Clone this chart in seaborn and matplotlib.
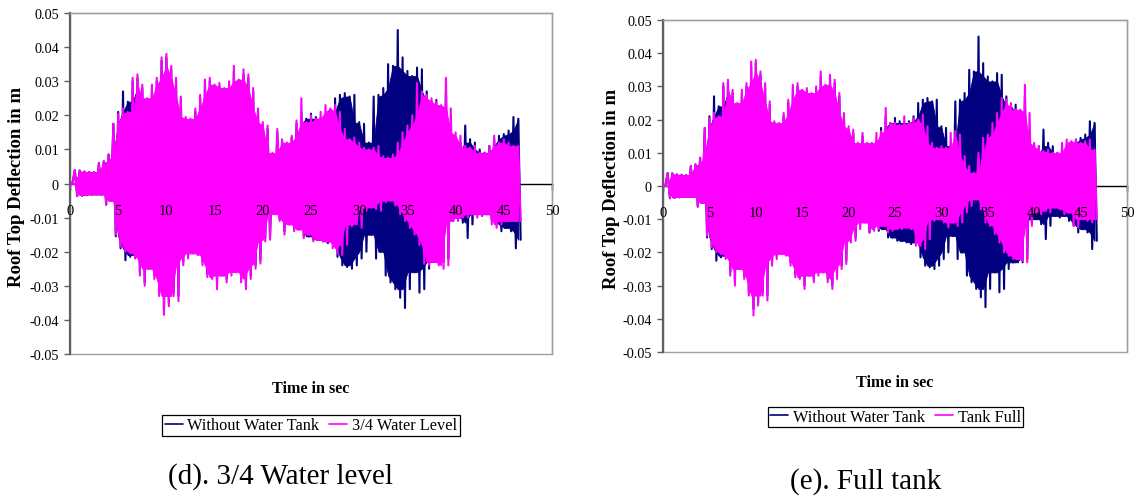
import numpy as np
import pandas as pd
import matplotlib
matplotlib.use("Agg")
import matplotlib.pyplot as plt
import seaborn as sns
from matplotlib.lines import Line2D

# Roof-top deflection peak envelopes (mm), sampled every 0.5 s from 0 to 46.5 s
STEP = 0.5
time_s = np.arange(0, 46.5 + STEP / 2, STEP)

no_tank_upper = [0, 3.9, 3.8, 3.5, 3.4, 3.3, 6.0, 6.5, 8.5, 17.5,
                 21.0, 27.0, 24.0, 30.0, 31.0, 28.0, 24.0, 28.0, 30.0, 36.0,
                 37.0, 33.5, 30.0, 24.5, 19.0, 18.5, 21.0, 25.0, 29.5, 30.0,
                 28.0, 28.5, 27.0, 29.0, 33.0, 29.5, 32.0, 31.0, 27.0, 21.0,
                 17.0, 16.0, 8.5, 15.0, 12.5, 11.5, 13.5, 17.5, 21.0, 19.0,
                 20.5, 19.5, 19.0, 19.5, 21.0, 25.0, 26.0, 26.5, 25.5, 26.0,
                 18.0, 17.5, 12.0, 25.5, 26.0, 28.0, 35.0, 34.5, 45.0, 37.0,
                 33.0, 31.5, 34.0, 33.5, 27.0, 24.0, 24.5, 22.0, 27.0, 14.0,
                 9.5, 12.0, 17.0, 13.0, 12.0, 10.0, 9.0, 11.0, 13.0, 14.0,
                 14.5, 15.5, 19.5, 19.0]
no_tank_lower = [0, -3.7, -3.6, -3.4, -3.3, -3.2, -3.2, -6.2, -5.0, -15.5,
                 -19.0, -22.5, -21.5, -21.0, -26.0, -29.0, -24.0, -27.0, -32.0, -37.0,
                 -35.0, -32.0, -33.0, -23.0, -21.0, -20.0, -20.0, -23.0, -26.5, -27.0,
                 -30.0, -26.0, -28.0, -26.0, -25.0, -28.0, -30.0, -27.0, -24.0, -22.5,
                 -16.0, -15.5, -8.5, -10.5, -14.0, -11.5, -13.5, -13.0, -15.5, -15.5,
                 -16.5, -16.5, -17.0, -17.5, -17.0, -21.5, -24.0, -24.5, -25.0, -24.0,
                 -22.0, -20.0, -15.0, -22.0, -20.0, -27.0, -29.0, -31.0, -33.5, -36.5,
                 -31.0, -26.0, -32.0, -31.0, -25.0, -23.0, -23.0, -23.0, -22.0, -11.0,
                 -10.0, -11.5, -16.0, -12.0, -9.0, -9.5, -9.0, -10.5, -12.0, -14.0,
                 -13.0, -14.0, -19.0, -16.5]

three_quarter_upper = [0, 3.9, 3.8, 3.5, 3.4, 3.3, 6.0, 6.5, 8.5, 17.5,
                       20.5, 22.0, 21.0, 31.0, 32.0, 29.0, 25.0, 29.0, 31.0, 37.0,
                       38.0, 34.5, 31.0, 25.5, 19.5, 19.0, 22.0, 26.0, 30.5, 31.0,
                       29.0, 29.5, 28.0, 30.0, 34.5, 30.5, 33.5, 32.0, 28.0, 22.0,
                       18.0, 17.0, 9.0, 16.0, 13.0, 12.0, 14.0, 18.5, 25.0, 18.0,
                       20.0, 19.0, 21.0, 23.0, 22.0, 23.0, 21.0, 16.0, 13.0, 13.5,
                       12.0, 10.5, 10.0, 10.5, 11.0, 8.0, 7.5, 8.5, 12.0, 15.0,
                       17.0, 20.0, 29.5, 27.0, 26.0, 25.0, 24.0, 23.0, 31.0, 22.0,
                       15.0, 14.0, 11.0, 10.5, 11.0, 9.0, 9.0, 11.0, 14.0, 12.0,
                       13.0, 12.0, 11.0, 11.0]
three_quarter_lower = [0, -3.7, -3.6, -3.4, -3.3, -3.2, -3.2, -6.2, -5.0, -15.0,
                       -18.5, -20.0, -20.5, -22.0, -27.0, -30.0, -25.0, -28.0, -33.0, -38.5,
                       -36.0, -33.0, -34.5, -24.0, -22.0, -20.5, -21.0, -24.0, -27.5, -28.0,
                       -31.0, -27.0, -29.0, -27.0, -26.0, -29.0, -31.0, -28.0, -25.0, -23.5,
                       -17.0, -16.5, -9.0, -11.0, -15.0, -12.0, -14.0, -13.5, -16.0, -15.0,
                       -17.0, -16.5, -17.0, -17.0, -19.0, -20.5, -21.0, -18.0, -12.5, -12.0,
                       -13.0, -8.0, -7.0, -7.5, -8.0, -5.5, -5.0, -6.5, -9.0, -11.0,
                       -13.0, -15.0, -18.0, -23.5, -24.0, -23.0, -24.0, -25.0, -24.0, -11.0,
                       -11.0, -10.0, -10.0, -9.0, -10.0, -9.5, -9.0, -12.0, -13.0, -12.0,
                       -11.0, -11.0, -11.0, -11.0]

full_tank_upper = [0, 3.9, 3.8, 3.5, 3.4, 3.3, 6.0, 6.5, 8.5, 17.5,
                   20.5, 22.0, 21.0, 31.0, 32.0, 29.0, 25.0, 29.0, 31.0, 37.5,
                   38.0, 34.5, 31.0, 25.5, 19.5, 19.0, 22.0, 26.0, 30.5, 31.0,
                   29.0, 29.5, 28.0, 30.0, 34.5, 30.5, 33.5, 32.0, 28.0, 22.0,
                   18.0, 17.0, 13.0, 16.0, 13.0, 13.0, 16.0, 16.5, 23.5, 19.0,
                   19.0, 18.5, 21.0, 19.0, 20.5, 20.0, 21.5, 18.0, 13.0, 11.5,
                   12.0, 11.5, 16.0, 16.5, 15.5, 9.0, 6.0, 4.0, 10.0, 14.5,
                   15.5, 19.0, 22.0, 26.5, 26.0, 25.0, 23.0, 23.0, 30.5, 22.0,
                   13.0, 12.0, 10.5, 11.0, 10.0, 10.0, 13.0, 14.0, 13.5, 14.0,
                   13.0, 13.5, 14.0, 11.0]
full_tank_lower = [0, -3.7, -3.6, -3.4, -3.3, -3.2, -3.2, -6.2, -5.0, -15.0,
                   -18.5, -20.0, -20.5, -22.0, -27.0, -30.0, -25.0, -28.0, -33.0, -39.0,
                   -36.0, -33.0, -34.5, -24.0, -22.0, -20.5, -21.0, -24.0, -27.5, -28.0,
                   -31.0, -27.0, -29.0, -27.0, -26.0, -29.0, -31.0, -28.0, -25.0, -23.5,
                   -17.0, -16.5, -13.0, -11.0, -14.0, -13.5, -13.0, -12.0, -14.0, -13.5,
                   -13.0, -13.0, -12.5, -13.0, -18.0, -18.0, -19.0, -16.0, -10.5, -10.0,
                   -11.0, -12.5, -11.0, -12.0, -11.0, -8.0, -6.0, -4.0, -7.0, -11.0,
                   -12.0, -14.5, -17.0, -20.0, -21.0, -22.0, -22.0, -22.5, -23.0, -12.0,
                   -8.0, -8.5, -7.5, -8.0, -6.5, -7.0, -8.5, -8.0, -12.0, -12.5,
                   -10.0, -10.5, -11.0, -10.0]

series_names = ["Without Water Tank", "3/4 Water Level", "Tank Full"]
panel_titles = ["(d). 3/4 Water level", "(e). Full tank"]
x_ticks = [0, 5, 10, 15, 20, 25, 30, 35, 40, 45, 50]
y_ticks = [-0.05, -0.04, -0.03, -0.02, -0.01, 0, 0.01, 0.02, 0.03, 0.04, 0.05]

NAVY = "#000080"
MAGENTA = "#FF00FF"

sns.set_style("white")
plt.rcParams["font.family"] = ["Liberation Serif", "DejaVu Serif"]
for key in ("text.color", "axes.labelcolor", "xtick.color", "ytick.color"):
    plt.rcParams[key] = "black"

fig = plt.figure(figsize=(11.36, 5.02), dpi=100)
W, H = 1136, 502


def px_axes(x0, y0, x1, y1):
    return fig.add_axes([x0 / W, 1 - y1 / H, (x1 - x0) / W, (y1 - y0) / H])


def neighbour_core(vals, pick):
    # solid body of the trace: the smaller peak among each sample and its neighbours
    v = np.asarray(vals)
    padded = np.concatenate([v[:1], v, v[-1:]])
    stack = np.vstack([padded[:-2], padded[1:-1], padded[2:]])
    return pick(stack, axis=0)


def draw_trace(ax, upper_mm, lower_mm, color, z):
    up = np.asarray(upper_mm) / 1000.0
    lo = np.asarray(lower_mm) / 1000.0
    core_up = neighbour_core(up, np.min)
    core_lo = neighbour_core(lo, np.max)
    ax.fill_between(time_s, core_lo, core_up, color=color, lw=0.6, zorder=z)
    # oscillating trace swinging between the positive and negative peaks
    tz = np.empty(2 * len(time_s))
    vz = np.empty(2 * len(time_s))
    tz[0::2] = time_s
    tz[1::2] = time_s + STEP / 2
    vz[0::2] = up
    vz[1::2] = lo
    df = pd.DataFrame({"t": tz, "v": vz})
    sns.lineplot(data=df, x="t", y="v", ax=ax, color=color, lw=1.5,
                 sort=False, estimator=None, zorder=z)


def style_axes(ax):
    ax.set_xlim(0, 50)
    ax.set_ylim(-0.05, 0.05)
    ax.set_xticks(x_ticks)
    ax.set_yticks(y_ticks)
    ax.set_xticklabels([])
    ax.set_yticklabels([("%g" % v) for v in y_ticks])
    ax.set_xlabel("")
    ax.set_ylabel("")
    ax.patch.set_edgecolor("#a0a0a0")
    ax.patch.set_linewidth(1.0)
    for side in ("top", "right"):
        ax.spines[side].set_color("#a0a0a0")
        ax.spines[side].set_linewidth(1.0)
    ax.spines["left"].set_color("#606060")
    ax.spines["left"].set_linewidth(1.6)
    ax.spines["bottom"].set_position(("data", 0))
    ax.spines["bottom"].set_color("black")
    ax.spines["bottom"].set_linewidth(1.0)
    ax.spines["bottom"].set_zorder(1)
    ax.xaxis.set_zorder(1)
    ax.tick_params(axis="y", direction="out", length=4, width=1.0,
                   color="#606060", pad=4, labelsize=10.3, left=True)
    ax.tick_params(axis="x", direction="out", length=4, width=1.0,
                   color="black", bottom=True)
    # time labels sit just under the zero line, above the traces
    for v in x_ticks:
        ax.annotate(str(v), xy=(v, 0), xytext=(0, -14.5), textcoords="offset points",
                    ha="center", va="top", fontsize=10.5, zorder=6,
                    annotation_clip=False)
    if ax.get_legend() is not None:
        ax.get_legend().remove()


panels = [
    dict(box=(70, 14, 552, 355), second=(three_quarter_upper, three_quarter_lower),
         name=series_names[1], ylab_x=17, xlab_y=389,
         legend_c=((157 + 465) / 2, (413 + 440) / 2), title_c=(281, 477)),
    dict(box=(663, 21, 1127, 353), second=(full_tank_upper, full_tank_lower),
         name=series_names[2], ylab_x=612, xlab_y=383,
         legend_c=((768 + 1023) / 2, (405 + 431) / 2), title_c=(866, 482)),
]

for i, p in enumerate(panels):
    x0, y0, x1, y1 = p["box"]
    ax = px_axes(x0, y0, x1, y1)
    draw_trace(ax, no_tank_upper, no_tank_lower, NAVY, 3)
    draw_trace(ax, p["second"][0], p["second"][1], MAGENTA, 4)
    style_axes(ax)

    fig.text(p["ylab_x"] / W, 1 - ((y0 + y1) / 2 + 2) / H, "Roof Top Deflection in m",
             rotation=90, ha="center", va="center", fontsize=13.5, fontweight="bold")
    fig.text(((x0 + x1) / 2) / W, 1 - p["xlab_y"] / H, "Time in sec",
             ha="center", va="center", fontsize=11.6, fontweight="bold")

    handles = [Line2D([0], [0], color=NAVY, lw=1.2),
               Line2D([0], [0], color=MAGENTA, lw=1.2)]
    lx, ly = p["legend_c"]
    leg = fig.legend(handles, [series_names[0], p["name"]], loc="center",
                     bbox_to_anchor=(lx / W, 1 - ly / H), ncol=2, frameon=True,
                     fancybox=False, framealpha=1, edgecolor="black",
                     fontsize=11.8, handlelength=1.1, handletextpad=0.3,
                     columnspacing=0.6, borderpad=0.15, borderaxespad=0)
    leg.get_frame().set_linewidth(0.9)

    tx, ty = p["title_c"]
    fig.text(tx / W, 1 - ty / H, panel_titles[i], ha="center", va="center",
             fontsize=21)

fig.savefig("out.png", dpi=100)
